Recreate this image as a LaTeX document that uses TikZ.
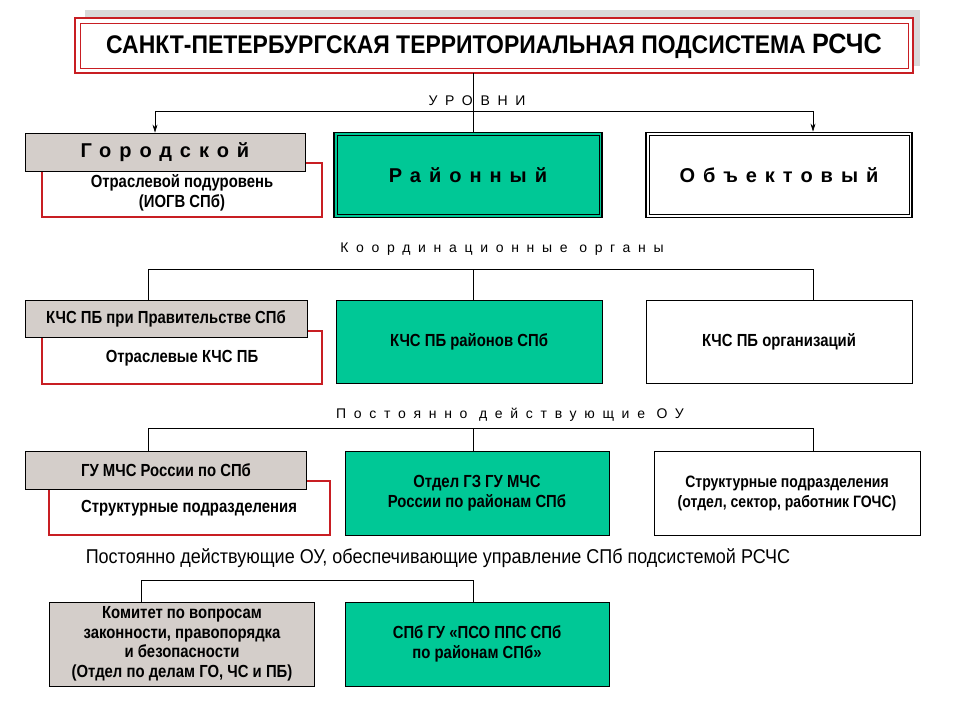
\documentclass[tikz,border=0pt]{standalone}
\usepackage{fontspec}
\setmainfont{Liberation Sans}
\usetikzlibrary{arrows.meta}
\definecolor{grn}{RGB}{0,200,150}
\definecolor{gry}{RGB}{212,206,202}
\definecolor{rd}{RGB}{200,30,35}
\begin{document}
\begin{tikzpicture}[x=1pt,y=-1pt,
  tf/.style={font=\bfseries\fontsize{17.5}{20}\selectfont\addfontfeature{FakeStretch=0.85}},
  bx/.style={draw=black,line width=0.8pt,align=center,tf},
  gbox/.style={bx,fill=gry},
  rbox/.style={bx,draw=rd,line width=2pt,fill=white},
  ln/.style={line width=0.7pt},
  big/.style={font=\bfseries\fontsize{20}{22}\selectfont\addfontfeature{LetterSpace=40}},
  sp/.style={font=\fontsize{14}{16}\selectfont\addfontfeature{LetterSpace=55}}]
\useasboundingbox (0,0) rectangle (960,720);
% title
\fill[gray!30] (85,10) rectangle (920,66);
\draw[rd,line width=2.5pt,fill=white] (75,18) rectangle (913,73);
\draw[rd,line width=1pt] (80,23) rectangle (908,68);
\node (title) at (494,46) {\bfseries\fontsize{25.5}{28}\selectfont\addfontfeature{FakeStretch=0.9}САНКТ-ПЕТЕРБУРГСКАЯ ТЕРРИТОРИАЛЬНАЯ ПОДСИСТЕМА {\fontsize{28}{30}\selectfont РСЧС}};
\coordinate (t0) at (473,73);
% levels
\node[sp] (lev) at (477,101) {УРОВНИ};
\coordinate (l1) at (155,111); \coordinate (l2) at (813,111); \coordinate (lm) at (473,111);
\node[rbox,minimum width=280,minimum height=54] (otr) at (182,190) {};
\node[tf,align=center] (otrt) at (182,193) {Отраслевой подуровень\\(ИОГВ СПб)};
\node[gbox,big,minimum width=280,minimum height=38] (gor) at (165,152) {Городской};
\node[bx,big,fill=grn,line width=1.8pt,minimum width=268,minimum height=85] (ray) at (468,175) {Районный};
\draw[line width=0.8pt] ([shift={(4,4)}]ray.north west) rectangle ([shift={(-4,-4)}]ray.south east);
\node[bx,big,fill=white,line width=1.8pt,minimum width=266,minimum height=85] (obj) at (779,175) {Объектовый};
\draw[line width=0.8pt] ([shift={(4,4)}]obj.north west) rectangle ([shift={(-4,-4)}]obj.south east);
\draw[ln] (t0) -- (ray.north -| t0);
\draw[ln,-{Stealth[length=8pt,width=5pt]}] (lm) -- (l1) -- (gor.north -| l1);
\draw[ln,-{Stealth[length=8pt,width=5pt]}] (lm) -- (l2) -- (obj.north -| l2);
% coordination
\node[sp] (koord) at (502,249) {Координационные органы};
\node[rbox,minimum width=280,minimum height=53] (otk) at (182,357) {};
\node[tf] at (182,358) {Отраслевые КЧС ПБ};
\node[gbox,minimum width=282,minimum height=37] (kchs1) at (166,319) {КЧС ПБ при Правительстве СПб};
\node[bx,fill=grn,minimum width=266,minimum height=83] (kchs2) at (469,342) {КЧС ПБ районов СПб};
\node[bx,fill=white,minimum width=266,minimum height=83] (kchs3) at (779,342) {КЧС ПБ организаций};
\coordinate (k1) at (148,269); \coordinate (k2) at (813,269); \coordinate (km) at (473,269);
\draw[ln] (k1) -- (k2);
\draw[ln] (k1) -- (kchs1.north -| k1);
\draw[ln] (k2) -- (kchs3.north -| k2);
\draw[ln] (km) -- (kchs2.north -| km);
% permanent
\node[sp] (post) at (510,415) {Постоянно действующие ОУ};
\node[rbox,minimum width=281,minimum height=54] (str1) at (189,508) {};
\node[tf] at (189,508) {Структурные подразделения};
\node[gbox,minimum width=281,minimum height=38] (gu) at (166,470) {ГУ МЧС России по СПб};
\node[bx,fill=grn,minimum width=264,minimum height=84] (gz) at (477,493) {Отдел ГЗ ГУ МЧС\\России по районам СПб};
\node[bx,fill=white,minimum width=266,minimum height=84,font=\bfseries\fontsize{16.5}{20}\selectfont\addfontfeature{FakeStretch=0.85}] (str2) at (787,493) {Структурные подразделения\\(отдел, сектор, работник ГОЧС)};
\coordinate (p1) at (148,428); \coordinate (p2) at (813,428); \coordinate (pm) at (473,428);
\draw[ln] (p1) -- (p2);
\draw[ln] (p1) -- (gu.north -| p1);
\draw[ln] (p2) -- (str2.north -| p2);
\draw[ln] (pm) -- (gz.north -| pm);
% bottom
\node[font=\fontsize{20}{22}\selectfont\addfontfeature{FakeStretch=0.9}] (upr) at (438,558) {Постоянно действующие ОУ, обеспечивающие управление СПб подсистемой РСЧС};
\node[gbox,minimum width=265,minimum height=84,font=\bfseries\fontsize{17.5}{19.5}\selectfont\addfontfeature{FakeStretch=0.85}] (kom) at (182,644) {Комитет по вопросам\\законности, правопорядка\\и безопасности\\(Отдел по делам ГО, ЧС и ПБ)};
\node[bx,fill=grn,minimum width=264,minimum height=84] (pso) at (477,644) {СПб ГУ «ПСО ППС СПб\\по районам СПб»};
\coordinate (b1) at (141,580); \coordinate (bm) at (473,580);
\draw[ln] (kom.north -| b1) -- (b1) -- (bm) -- (pso.north -| bm);
\end{tikzpicture}
\end{document}
